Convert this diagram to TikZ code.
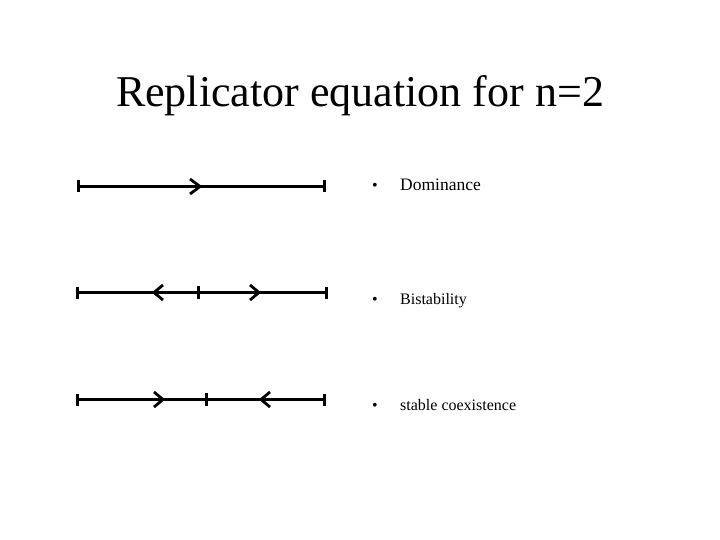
\documentclass[tikz,border=0pt]{standalone}
\usepackage{fontspec}
\setmainfont{Liberation Serif}
\usepackage{tikz}

\begin{document}
\begin{tikzpicture}[x=1pt,y=-1pt,
    flow/.style={line width=3pt},
    tick/.style={line width=3pt},
    chev/.style={line width=2.8pt, line join=miter},
    item/.style={anchor=base west, font=\fontsize{16}{18}\selectfont, inner sep=0pt}]
    \useasboundingbox (0,0) rectangle (720,540);
    \node (title) at (360,96) {\fontsize{44}{48}\selectfont Replicator equation for n=2};

    % dominance
    \draw[flow] (78,186.5) -- (324,186.5);
    \draw[tick] (78,180.5) -- (78,192.5);
    \draw[tick] (324,180.5) -- (324,192.5);
    \draw[chev] (190,179) -- (200,186.5) -- (190,194);

    % bistability
    \draw[flow] (77,292.5) -- (326,292.5);
    \draw[tick] (77,286.5) -- (77,298.5);
    \draw[tick] (326,286.5) -- (326,298.5);
    \draw[tick] (198,286) -- (198,299);
    \draw[chev] (163,285) -- (154,292.5) -- (163,300);
    \draw[chev] (250,285) -- (259,292.5) -- (250,300);

    % stable coexistence
    \draw[flow] (77,399.5) -- (324,399.5);
    \draw[tick] (77,393.5) -- (77,405.5);
    \draw[tick] (324,393.5) -- (324,405.5);
    \draw[tick] (206,393) -- (206,406);
    \draw[chev] (154,392) -- (163,399.5) -- (154,407);
    \draw[chev] (270,392) -- (261,399.5) -- (270,407);

    \node[item] (b1) at (372,191) {\textbullet};
    \node[item, font=\fontsize{17.5}{19}\selectfont] (dom) at (400,191) {Dominance};
    \node[item] (b2) at (372,304) {\textbullet};
    \node[item] (bis) at (400,304) {Bistability};
    \node[item] (b3) at (372,410) {\textbullet};
    \node[item] (coex) at (400,410) {stable coexistence};
\end{tikzpicture}
\end{document}
